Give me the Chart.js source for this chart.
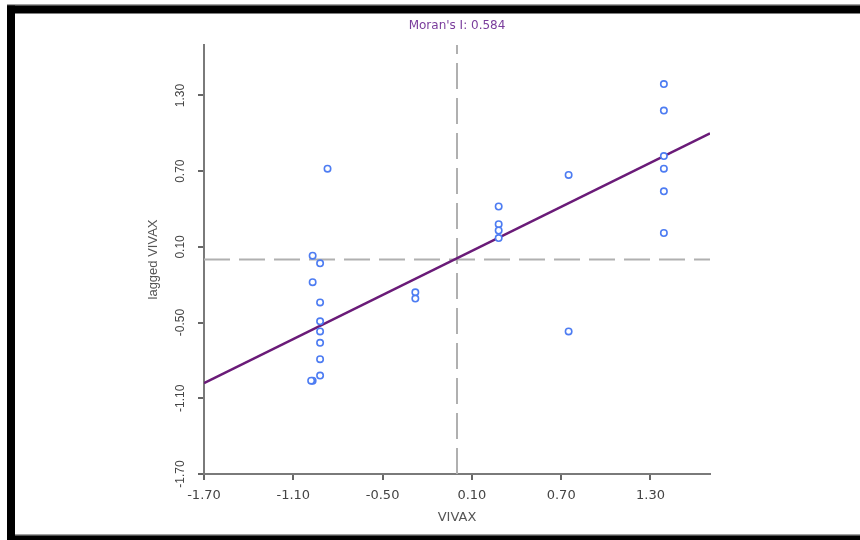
<!DOCTYPE html>
<html>
<head>
<meta charset="utf-8">
<title>Moran scatter plot</title>
<script src="https://cdn.jsdelivr.net/npm/chart.js@4.4.1/dist/chart.umd.min.js"></script>
<style>
  html, body { margin: 0; padding: 0; background: #fff; }
  #moranChart { display: block; }
</style>
</head>
<body>
<canvas id="moranChart" width="860" height="540"></canvas>
<script>
// axis ticks (same on both axes)
const xTicks = [-1.70, -1.10, -0.50, 0.10, 0.70, 1.30];
const yTicks = [-1.70, -1.10, -0.50, 0.10, 0.70, 1.30];
const axisMin = -1.70;
const axisMax = 1.70;

// standardized VIVAX and its spatial lag
const vivax = [
  -0.87, -0.97, -0.92, -0.97, -0.92, -0.92, -0.92, -0.92, -0.92, -0.92, -0.97, -0.98,
  -0.28, -0.28,
  0.28, 0.28, 0.28, 0.28,
  0.75, 0.75,
  1.39, 1.39, 1.39, 1.39, 1.39, 1.39
];
const laggedVivax = [
  0.72, 0.03, -0.03, -0.18, -0.34, -0.49, -0.57, -0.66, -0.79, -0.92, -0.96, -0.96,
  -0.26, -0.31,
  0.42, 0.28, 0.23, 0.17,
  0.67, -0.57,
  1.39, 1.18, 0.82, 0.72, 0.54, 0.21
];

// regression line (slope = Moran's I) and mean lines
const fitX = [-1.70, 1.70];
const fitY = [-0.98, 1.00];
const meanX = 0;
const meanY = 0;
const moransI = 0.584;

/**
 * Black frame around the picture (screenshot border)
 */
const framePlugin = {
  id: 'frame',
  beforeDraw(chart) {
    const ctx = chart.ctx;
    const w = chart.width;
    const h = chart.height;
    ctx.save();
    ctx.fillStyle = '#ffffff';
    ctx.fillRect(0, 0, w, h);
    ctx.fillStyle = '#a0a0a0';
    ctx.fillRect(7, 4, w - 7, 2);
    ctx.fillRect(15, 534, w - 15, 2);
    ctx.fillStyle = '#000000';
    ctx.fillRect(7, 5.5, w - 7, 8);
    ctx.fillRect(7, 5.5, 8, h - 5.5);
    ctx.fillRect(7, 535.5, w - 7, h - 535.5);
    ctx.restore();
  }
};

/**
 * Y tick labels are drawn rotated, reading bottom to top
 */
const yTickLabelsPlugin = {
  id: 'yTickLabels',
  afterDraw(chart) {
    const ctx = chart.ctx;
    const scale = chart.scales.y;
    const x = chart.chartArea.left - 23;
    ctx.save();
    ctx.font = '12px "Liberation Sans", Arial, sans-serif';
    ctx.fillStyle = '#444444';
    ctx.textAlign = 'center';
    ctx.textBaseline = 'middle';
    yTicks.forEach(v => {
      const py = scale.getPixelForValue(v);
      ctx.save();
      ctx.translate(x, py);
      ctx.rotate(-Math.PI / 2);
      ctx.fillText(v.toFixed(2), 0, 0);
      ctx.restore();
    });
    ctx.restore();
  }
};

const points = vivax.map((x, i) => ({ x: x, y: laggedVivax[i] }));

new Chart(document.getElementById('moranChart'), {
  type: 'scatter',
  data: {
    datasets: [
      {
        label: 'observations',
        data: points,
        pointStyle: 'circle',
        pointRadius: 3.2,
        pointHoverRadius: 3.2,
        pointBorderWidth: 1.6,
        borderColor: '#4d7cf2',
        backgroundColor: '#ffffff',
        order: 0
      },
      {
        label: 'fit',
        data: fitX.map((x, i) => ({ x: x, y: fitY[i] })),
        showLine: true,
        borderColor: '#6a1b78',
        borderWidth: 2.5,
        pointRadius: 0,
        order: 1
      },
      {
        label: 'mean x',
        data: [{ x: meanX, y: axisMin }, { x: meanX, y: axisMax }],
        showLine: true,
        borderColor: '#b0b0b0',
        borderWidth: 2,
        borderDash: [26, 9],
        pointRadius: 0,
        order: 2
      },
      {
        label: 'mean y',
        data: [{ x: axisMin, y: meanY }, { x: axisMax, y: meanY }],
        showLine: true,
        borderColor: '#b0b0b0',
        borderWidth: 2,
        borderDash: [26, 9],
        pointRadius: 0,
        order: 2
      }
    ]
  },
  options: {
    responsive: false,
    animation: false,
    devicePixelRatio: 1,
    layout: {
      padding: { top: 12, right: 150, bottom: 0, left: 0 }
    },
    plugins: {
      legend: { display: false },
      tooltip: { enabled: false },
      title: {
        display: true,
        fullSize: false,
        text: "Moran's I: " + moransI.toFixed(3),
        color: '#7a3d9c',
        font: { family: '"DejaVu Sans", sans-serif', size: 12, weight: 'normal' },
        padding: { top: 7, bottom: 11.6 }
      }
    },
    scales: {
      x: {
        type: 'linear',
        min: axisMin,
        max: axisMax,
        afterBuildTicks: scale => {
          scale.ticks = xTicks.map(v => ({ value: v }));
        },
        afterFit: scale => {
          scale.height = 66;
        },
        border: { display: true, color: '#7a7a7a', width: 2 },
        grid: {
          display: true,
          drawOnChartArea: false,
          drawTicks: true,
          tickLength: 6,
          color: '#666666',
          lineWidth: 2
        },
        ticks: {
          autoSkip: false,
          maxRotation: 0,
          padding: 8,
          color: '#444444',
          font: { family: '"DejaVu Sans", sans-serif', size: 13 },
          callback: v => Number(v).toFixed(2)
        },
        title: {
          display: true,
          text: 'VIVAX',
          color: '#555555',
          font: { family: '"DejaVu Sans", sans-serif', size: 13 },
          padding: { top: 0, bottom: 15 }
        }
      },
      y: {
        type: 'linear',
        min: axisMin,
        max: axisMax,
        afterBuildTicks: scale => {
          scale.ticks = yTicks.map(v => ({ value: v }));
        },
        afterFit: scale => {
          scale.width = 204;
        },
        border: { display: true, color: '#7a7a7a', width: 2 },
        grid: {
          display: true,
          drawOnChartArea: false,
          drawTicks: true,
          tickLength: 6,
          color: '#666666',
          lineWidth: 2
        },
        ticks: {
          display: false
        },
        title: {
          display: true,
          text: 'lagged VIVAX',
          color: '#555555',
          font: { family: '"Liberation Sans", Arial, sans-serif', size: 13 },
          padding: { top: 146, bottom: 0 }
        }
      }
    }
  },
  plugins: [framePlugin, yTickLabelsPlugin]
});
</script>
</body>
</html>
